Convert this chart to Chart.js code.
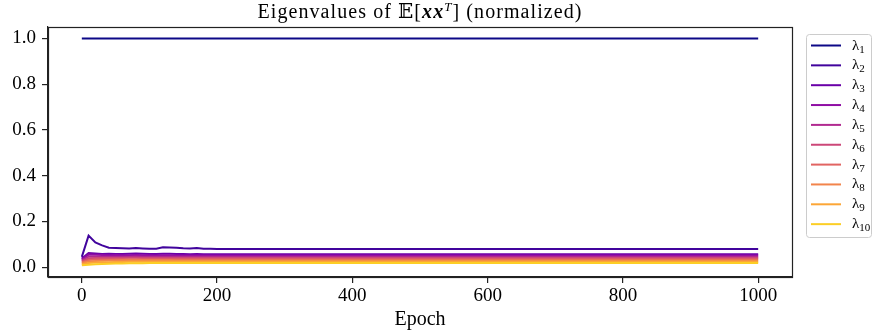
<!DOCTYPE html>
<html>
<head>
<meta charset="utf-8">
<script src="https://cdn.jsdelivr.net/npm/chart.js@4/dist/chart.umd.min.js"></script>
<style>
  html, body { margin: 0; padding: 0; background: #fff; }
  #wrap { width: 873px; height: 335px; position: relative; }
</style>
</head>
<body>
<div id="wrap"><canvas id="c"></canvas></div>
<script>
// Training epochs at which the spectrum was recorded
const epochs = [0, 10, 20, 30, 40, 50, 60, 70, 80, 90, 100, 110, 120, 130, 140, 150, 160, 170, 180, 190, 200,
                300, 400, 500, 600, 700, 800, 900, 1000];

// Normalized eigenvalues (largest = 1)
const lambda1  = [1.000, 1.000, 1.000, 1.000, 1.000, 1.000, 1.000, 1.000, 1.000, 1.000, 1.000, 1.000, 1.000, 1.000, 1.000, 1.000, 1.000, 1.000, 1.000, 1.000, 1.000, 1.000, 1.000, 1.000, 1.000, 1.000, 1.000, 1.000, 1.000];
const lambda2  = [0.045, 0.138, 0.108, 0.095, 0.085, 0.084, 0.083, 0.082, 0.084, 0.082, 0.080, 0.081, 0.087, 0.086, 0.085, 0.083, 0.082, 0.084, 0.081, 0.080, 0.079, 0.079, 0.079, 0.079, 0.079, 0.079, 0.079, 0.079, 0.079];
const lambda3  = [0.038, 0.062, 0.060, 0.058, 0.059, 0.058, 0.058, 0.059, 0.060, 0.059, 0.058, 0.058, 0.059, 0.059, 0.058, 0.058, 0.057, 0.058, 0.057, 0.057, 0.057, 0.057, 0.057, 0.057, 0.057, 0.057, 0.057, 0.057, 0.057];
const lambda4  = [0.034, 0.055, 0.054, 0.053, 0.052, 0.053, 0.052, 0.052, 0.053, 0.052, 0.052, 0.051, 0.052, 0.052, 0.051, 0.051, 0.051, 0.051, 0.051, 0.051, 0.051, 0.051, 0.051, 0.051, 0.051, 0.051, 0.051, 0.051, 0.051];
const lambda5  = [0.030, 0.046, 0.047, 0.046, 0.046, 0.046, 0.046, 0.046, 0.047, 0.046, 0.046, 0.046, 0.046, 0.046, 0.046, 0.046, 0.046, 0.046, 0.046, 0.046, 0.046, 0.046, 0.046, 0.046, 0.046, 0.046, 0.046, 0.046, 0.046];
const lambda6  = [0.026, 0.038, 0.040, 0.040, 0.040, 0.040, 0.040, 0.041, 0.041, 0.040, 0.040, 0.040, 0.040, 0.040, 0.040, 0.040, 0.040, 0.040, 0.040, 0.040, 0.040, 0.040, 0.040, 0.040, 0.040, 0.040, 0.040, 0.040, 0.040];
const lambda7  = [0.022, 0.031, 0.033, 0.034, 0.034, 0.035, 0.035, 0.035, 0.035, 0.035, 0.035, 0.035, 0.035, 0.035, 0.035, 0.035, 0.035, 0.035, 0.035, 0.035, 0.035, 0.035, 0.035, 0.035, 0.035, 0.035, 0.035, 0.035, 0.035];
const lambda8  = [0.018, 0.025, 0.027, 0.028, 0.029, 0.029, 0.030, 0.030, 0.030, 0.030, 0.030, 0.030, 0.030, 0.030, 0.029, 0.029, 0.029, 0.029, 0.029, 0.029, 0.029, 0.029, 0.029, 0.029, 0.029, 0.029, 0.029, 0.029, 0.029];
const lambda9  = [0.013, 0.018, 0.020, 0.021, 0.022, 0.023, 0.023, 0.024, 0.024, 0.024, 0.024, 0.024, 0.024, 0.024, 0.024, 0.024, 0.024, 0.024, 0.024, 0.024, 0.024, 0.024, 0.024, 0.024, 0.024, 0.024, 0.024, 0.024, 0.024];
const lambda10 = [0.008, 0.011, 0.013, 0.014, 0.015, 0.016, 0.016, 0.017, 0.017, 0.017, 0.018, 0.018, 0.018, 0.018, 0.018, 0.018, 0.018, 0.018, 0.018, 0.018, 0.018, 0.018, 0.018, 0.018, 0.018, 0.018, 0.018, 0.018, 0.018];

const seriesValues = [lambda1, lambda2, lambda3, lambda4, lambda5, lambda6, lambda7, lambda8, lambda9, lambda10];
const seriesIndices = ['1', '2', '3', '4', '5', '6', '7', '8', '9', '10'];

// plasma colormap, sampled evenly from 0 to 0.9
const plasma = ['#0d0887', '#41049d', '#6a00a8', '#8f0da4', '#b12a90',
                '#cc4778', '#e16462', '#f2844b', '#fca636', '#fcce25'];

const xTicks = [0, 200, 400, 600, 800, 1000];
const yTicks = [0.0, 0.2, 0.4, 0.6, 0.8, 1.0];

const SERIF = "'Liberation Serif', 'DejaVu Serif', serif";
const TITLE_WIDTH = 325;

const datasets = seriesValues.map((vals, i) => ({
  label: '\u03bb' + seriesIndices[i],
  data: epochs.map((e, k) => ({ x: e, y: vals[k] })),
  borderColor: plasma[i],
  backgroundColor: plasma[i],
  borderWidth: 2,
  pointRadius: 0,
  tension: 0,
  fill: false,
  order: seriesValues.length - i   // later eigenvalues on top
}));

const decorations = {
  id: 'decorations',
  afterDraw(chart) {
    const ctx = chart.ctx;
    const a = chart.chartArea;
    ctx.save();

    // frame around the plotting area
    ctx.strokeStyle = '#222';
    ctx.lineWidth = 1.2;
    ctx.strokeRect(Math.round(a.left) + 0.5, Math.round(a.top) + 0.5,
                   Math.round(a.right - a.left), Math.round(a.bottom - a.top));

    // title, spread to the width of the math-typeset original
    const cx = (a.left + a.right) / 2;
    const parts = [
      { t: 'Eigenvalues of ', f: '20px ' + SERIF, dy: 0 },
      { t: '\u{1D53C}', f: '20px ' + SERIF, dy: 0 },
      { t: '[', f: '20px ' + SERIF, dy: 0 },
      { t: 'xx', f: 'italic bold 20px ' + SERIF, dy: 0 },
      { t: 'T', f: 'italic 13px ' + SERIF, dy: -7 },
      { t: '] (normalized)', f: '20px ' + SERIF, dy: 0 }
    ];
    let total = 0, nChars = 0;
    parts.forEach(p => {
      ctx.font = p.f; p.w = ctx.measureText(p.t).width; total += p.w;
      nChars += [...p.t].length;
    });
    const spacing = Math.max(0, (TITLE_WIDTH - total) / nChars);
    ctx.fillStyle = '#000';
    ctx.textBaseline = 'alphabetic';
    ctx.textAlign = 'left';
    let x = cx - (total + spacing * nChars) / 2;
    parts.forEach(p => {
      ctx.font = p.f;
      for (const ch of p.t) {
        ctx.fillText(ch, x, 18 + p.dy);
        x += ctx.measureText(ch).width + spacing;
      }
    });

    // x-axis label
    ctx.font = '20px ' + SERIF;
    ctx.textAlign = 'center';
    ctx.fillText('Epoch', cx, 325);

    // legend
    const lx = 806.5, ly = 34.5, lw = 65, lh = 203, r = 3;
    ctx.beginPath();
    ctx.moveTo(lx + r, ly);
    ctx.lineTo(lx + lw - r, ly);
    ctx.arcTo(lx + lw, ly, lx + lw, ly + r, r);
    ctx.lineTo(lx + lw, ly + lh - r);
    ctx.arcTo(lx + lw, ly + lh, lx + lw - r, ly + lh, r);
    ctx.lineTo(lx + r, ly + lh);
    ctx.arcTo(lx, ly + lh, lx, ly + lh - r, r);
    ctx.lineTo(lx, ly + r);
    ctx.arcTo(lx, ly, lx + r, ly, r);
    ctx.closePath();
    ctx.fillStyle = 'rgba(255,255,255,0.8)';
    ctx.fill();
    ctx.strokeStyle = '#cccccc';
    ctx.lineWidth = 1;
    ctx.stroke();

    chart.data.datasets.forEach((ds, i) => {
      const y = 45.5 + i * 19.85;
      ctx.strokeStyle = ds.borderColor;
      ctx.lineWidth = 2;
      ctx.beginPath();
      ctx.moveTo(811, y);
      ctx.lineTo(841, y);
      ctx.stroke();
      ctx.fillStyle = '#000';
      ctx.textAlign = 'left';
      ctx.textBaseline = 'alphabetic';
      ctx.font = '15px ' + SERIF;
      ctx.fillText('\u03bb', 852, y + 4);
      const w = ctx.measureText('\u03bb').width;
      ctx.font = '11px ' + SERIF;
      ctx.fillText(seriesIndices[i], 852 + w, y + 7);
    });

    ctx.restore();
  }
};

new Chart(document.getElementById('c'), {
  type: 'line',
  data: { datasets },
  options: {
    responsive: true,
    maintainAspectRatio: false,
    animation: false,
    layout: { padding: { top: 27, right: 81, left: 0, bottom: 0 } },
    plugins: { legend: { display: false }, title: { display: false }, tooltip: { enabled: false } },
    scales: {
      x: {
        type: 'linear',
        min: -50,
        max: 1050,
        afterFit(s) { s.height = 58; },
        afterBuildTicks(s) { s.ticks = xTicks.map(v => ({ value: v })); },
        grid: { drawOnChartArea: false, drawTicks: true, tickLength: 6, color: '#222', lineWidth: 1.2 },
        border: { display: true, color: '#222', width: 1.2 },
        ticks: { color: '#000', font: { family: SERIF, size: 19 }, padding: 2, maxRotation: 0,
                 callback: v => String(v) }
      },
      y: {
        type: 'linear',
        min: -0.043,
        max: 1.05,
        afterFit(s) { s.width = 48; },
        afterBuildTicks(s) { s.ticks = yTicks.map(v => ({ value: v })); },
        grid: { drawOnChartArea: false, drawTicks: true, tickLength: 6, color: '#222', lineWidth: 1.2 },
        border: { display: true, color: '#222', width: 1.2 },
        ticks: { color: '#000', font: { family: SERIF, size: 19 }, padding: 6,
                 callback: v => Number(v).toFixed(1) }
      }
    }
  },
  plugins: [decorations]
});
</script>
</body>
</html>
